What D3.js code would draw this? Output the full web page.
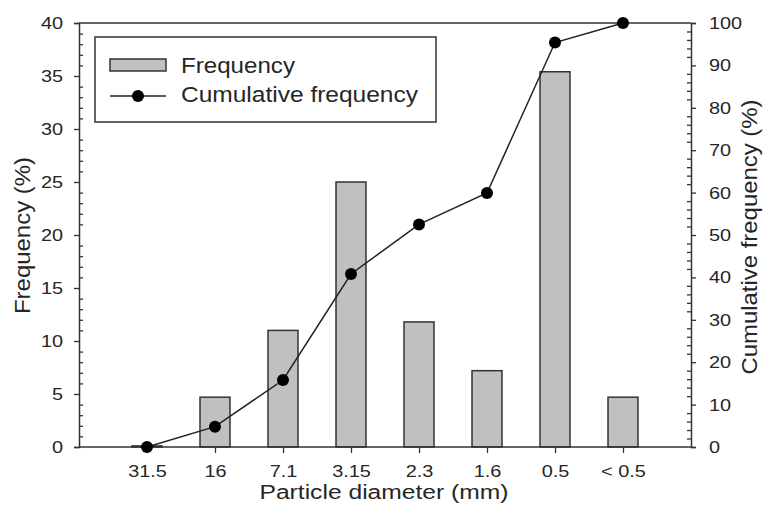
<!DOCTYPE html>
<html>
<head>
<meta charset="utf-8">
<script src="https://cdn.jsdelivr.net/npm/d3@7"></script>
<style>
  html, body { margin: 0; padding: 0; background: #fff; }
  svg { display: block; font-family: "Liberation Sans", Arial, sans-serif; }
</style>
</head>
<body>
<svg id="chart" width="763" height="506"></svg>
<script>
// Particle size classes (mm) and their share of the sample
const categories = ["31.5", "16", "7.1", "3.15", "2.3", "1.6", "0.5", "< 0.5"];
const frequency = [0.1, 4.7, 11.0, 25.0, 11.8, 7.2, 35.4, 4.7];
const cumulative = [0, 4.8, 15.8, 40.8, 52.5, 59.9, 95.4, 100];
const leftTicks = [0, 5, 10, 15, 20, 25, 30, 35, 40];
const rightTicks = [0, 10, 20, 30, 40, 50, 60, 70, 80, 90, 100];

const svg = d3.select("#chart");
const ink = "#333";
const textInk = "#262626";
const wide = 1.17; // horizontal widening applied to horizontal labels

const plotLeft = 79, plotRight = 691, plotTop = 23, plotBottom = 447;

// Stretch a text element to a given advance length
function fitLength(sel, len) {
  sel.attr("textLength", len).attr("lengthAdjust", "spacingAndGlyphs");
}
function widen(sel, k) {
  sel.each(function () {
    const n = d3.select(this);
    const w = this.getComputedTextLength();
    if (w > 0) fitLength(n, w * k);
  });
}

// Categories sit at integer positions 1..8 on a 0..9 span
const x = d3.scaleLinear().domain([0, categories.length + 1]).range([plotLeft, plotRight]);
const yL = d3.scaleLinear().domain([0, 40]).range([plotBottom, plotTop]);
const yR = d3.scaleLinear().domain([0, 100]).range([plotBottom, plotTop]);

const barW = 30;

// Bars
svg.append("g").selectAll("rect")
  .data(frequency)
  .join("rect")
  .attr("x", (d, i) => x(i + 1) - barW / 2)
  .attr("y", d => yL(d))
  .attr("width", barW)
  .attr("height", d => yL(0) - yL(d))
  .attr("fill", "#c0c0c0")
  .attr("stroke", ink)
  .attr("stroke-width", 1.5);

// Top frame line
svg.append("line").attr("x1", plotLeft).attr("x2", plotRight).attr("y1", plotTop).attr("y2", plotTop)
  .attr("stroke", ink).attr("stroke-width", 1.5);

// Left axis: major ticks outward, minor ticks inward
const gL = svg.append("g").attr("transform", `translate(${plotLeft},0)`);
gL.call(d3.axisLeft(yL).tickValues(leftTicks).tickSize(5).tickPadding(11).tickFormat(d3.format("d")));
gL.append("g").call(d3.axisRight(yL).tickValues(d3.range(0, 41, 1).filter(v => v % 5 !== 0)).tickSize(4).tickFormat(""))
  .call(g => g.select(".domain").remove());

// Right axis: major ticks outward, minor ticks inward
const gR = svg.append("g").attr("transform", `translate(${plotRight},0)`);
gR.call(d3.axisRight(yR).tickValues(rightTicks).tickSize(5).tickPadding(13).tickFormat(d3.format("d")));
gR.append("g").call(d3.axisLeft(yR).tickValues(d3.range(0, 101, 2).filter(v => v % 10 !== 0)).tickSize(4).tickFormat(""))
  .call(g => g.select(".domain").remove());

// Bottom axis with category labels
const gB = svg.append("g").attr("transform", `translate(0,${plotBottom})`);
gB.call(d3.axisBottom(x).tickValues(d3.range(1, categories.length + 1))
  .tickSize(6).tickPadding(12).tickFormat(i => categories[i - 1]));
gB.select(".domain").attr("d", `M${plotLeft},0H${plotRight}`);

svg.selectAll(".domain").attr("stroke", ink).attr("stroke-width", 1.5);
svg.selectAll(".tick line").attr("stroke", ink).attr("stroke-width", 1.3);
svg.selectAll(".tick text").attr("fill", textInk).style("font-size", "17px")
  .style("font-family", "'Liberation Sans', Arial, sans-serif");
widen(svg.selectAll(".tick text"), wide);

// Cumulative line and markers
const line = d3.line().x((d, i) => x(i + 1)).y(d => yR(d));
svg.append("path").datum(cumulative)
  .attr("d", line).attr("fill", "none").attr("stroke", "#222").attr("stroke-width", 1.5);
svg.append("g").selectAll("circle").data(cumulative).join("circle")
  .attr("cx", (d, i) => x(i + 1)).attr("cy", d => yR(d)).attr("r", 6).attr("fill", "#000");

// Axis titles
svg.append("text").attr("x", 384).attr("y", 499).attr("text-anchor", "middle")
  .attr("fill", textInk).style("font-size", "20px").text("Particle diameter (mm)")
  .call(fitLength, 249);
svg.append("text").attr("transform", "translate(30,235.5) rotate(-90)").attr("text-anchor", "middle")
  .attr("fill", textInk).style("font-size", "22px").text("Frequency (%)")
  .call(fitLength, 157);
svg.append("text").attr("transform", "translate(757,237) rotate(-90)").attr("text-anchor", "middle")
  .attr("fill", textInk).style("font-size", "22px").text("Cumulative frequency (%)")
  .call(fitLength, 275);

// Legend
const lg = svg.append("g");
lg.append("rect").attr("x", 95).attr("y", 37).attr("width", 341).attr("height", 85)
  .attr("fill", "#fff").attr("stroke", ink).attr("stroke-width", 1.5);
lg.append("rect").attr("x", 110).attr("y", 59).attr("width", 56).attr("height", 12)
  .attr("fill", "#c0c0c0").attr("stroke", ink).attr("stroke-width", 1.5);
lg.append("text").attr("x", 181).attr("y", 73).attr("fill", textInk).style("font-size", "22px").text("Frequency")
  .call(fitLength, 114);
lg.append("line").attr("x1", 110).attr("x2", 166).attr("y1", 96).attr("y2", 96)
  .attr("stroke", "#222").attr("stroke-width", 1.5);
lg.append("circle").attr("cx", 138).attr("cy", 96).attr("r", 6).attr("fill", "#000");
lg.append("text").attr("x", 181).attr("y", 102).attr("fill", textInk).style("font-size", "22px").text("Cumulative frequency")
  .call(fitLength, 237);
</script>
</body>
</html>
